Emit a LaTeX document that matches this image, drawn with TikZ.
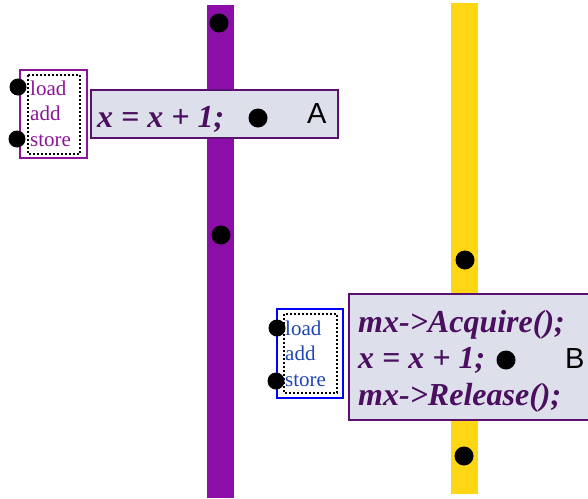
\documentclass[tikz,border=0pt]{standalone}
\usepackage{fontspec}
\setmainfont{Liberation Serif}
\newfontfamily\sansA{Liberation Sans}
\definecolor{barpurple}{RGB}{139,14,168}
\definecolor{bargold}{RGB}{255,214,20}
\definecolor{boxfill}{RGB}{221,224,235}
\definecolor{boxline}{RGB}{90,16,110}
\definecolor{codetext}{RGB}{75,15,95}
\definecolor{smallpurple}{RGB}{140,20,150}
\definecolor{smallblue}{RGB}{30,70,180}
\begin{document}
\begin{tikzpicture}[x=1pt,y=-1pt,
  dotmark/.style={circle,fill=black,inner sep=0pt,minimum size=19pt},
  smalldot/.style={circle,fill=black,inner sep=0pt,minimum size=17pt},
  codebox/.style={draw=boxline,line width=2.5pt,fill=boxfill},
  code/.style={font=\fontsize{32}{37}\selectfont\bfseries\itshape,text=codetext,inner sep=0pt,anchor=base west},
  tag/.style={font=\sansA\fontsize{29}{30}\selectfont,inner sep=0pt,anchor=base west},
  instr/.style={font=\fontsize{21}{25}\selectfont,inner sep=0pt,anchor=base west},
  dottedbox/.style={draw=black,line width=2pt,dotted}]
\useasboundingbox (0,0) rectangle (588,498);
% bars
\fill[barpurple] (207,5) rectangle (234,498);
\fill[bargold] (451,3) rectangle (478,494);
% box A
\draw[codebox] (91,90) rectangle (338,138);
\node[code] (ta) at (97,127) {x = x + 1;};
\node[tag] (la) at (307,123) {A};
% box B
\draw[codebox] (349,294) rectangle (590,420);
\node[code] (tb1) at (358,332) {mx->Acquire();};
\node[code] (tb2) at (358,368) {x = x + 1;};
\node[code] (tb3) at (358,405) {mx->Release();};
\node[tag] (lb) at (565,368) {B};
% left small box
\draw[draw=smallpurple,line width=2.5pt,fill=white] (20,70) rectangle (87,158);
\draw[dottedbox] (28,75) rectangle (80,154);
\node[instr,text=smallpurple] (l1) at (30,95) {load};
\node[instr,text=smallpurple] (l2) at (30,120) {add};
\node[instr,text=smallpurple] (l3) at (30,146) {store};
% blue small box
\draw[draw=blue,line width=2.5pt,fill=white] (277,309) rectangle (343,398);
\draw[dottedbox] (284,314) rectangle (337,393);
\node[instr,text=smallblue] (b1) at (285,335) {load};
\node[instr,text=smallblue] (b2) at (285,360) {add};
\node[instr,text=smallblue] (b3) at (285,386) {store};
% dots
\node[dotmark] (d1) at (219,23) {};
\node[dotmark] (d2) at (221,235) {};
\node[dotmark] (d3) at (465,260) {};
\node[dotmark] (d4) at (464,456) {};
\node[dotmark] (d5) at (258,118) {};
\node[dotmark] (d6) at (506,360) {};
\node[smalldot] (s1) at (18,87) {};
\node[smalldot] (s2) at (17,139) {};
\node[smalldot] (s3) at (277,328) {};
\node[smalldot] (s4) at (276,381) {};
\end{tikzpicture}
\end{document}
